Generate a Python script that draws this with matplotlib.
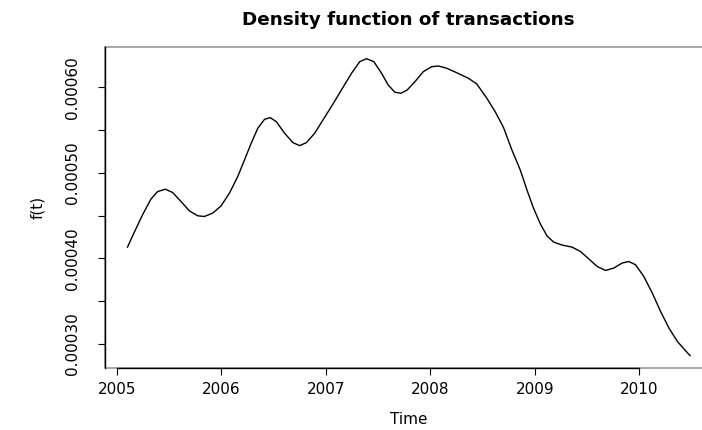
import matplotlib
matplotlib.use('Agg')
import matplotlib.pyplot as plt
from matplotlib.patches import Rectangle
import numpy as np

plt.rcParams['font.family'] = ['DejaVu Sans']

# density curve (time in years, density in 1e-5)
years = [2005.102, 2005.166, 2005.246, 2005.326, 2005.390, 2005.464, 2005.534,
         2005.614, 2005.694, 2005.774, 2005.838, 2005.917, 2005.998, 2006.078,
         2006.157, 2006.222, 2006.286, 2006.349, 2006.414, 2006.468, 2006.526,
         2006.606, 2006.685, 2006.750, 2006.814, 2006.894, 2006.973, 2007.069,
         2007.165, 2007.246, 2007.325, 2007.390, 2007.460, 2007.534, 2007.597,
         2007.661, 2007.719, 2007.779, 2007.853, 2007.933, 2008.013, 2008.077,
         2008.157, 2008.253, 2008.365, 2008.445, 2008.541, 2008.621, 2008.701,
         2008.781, 2008.861, 2008.925, 2008.988, 2009.053, 2009.117, 2009.180,
         2009.261, 2009.357, 2009.437, 2009.516, 2009.597, 2009.677, 2009.756,
         2009.837, 2009.900, 2009.965, 2010.044, 2010.125, 2010.204, 2010.284,
         2010.365, 2010.428, 2010.486]
dens_e5 = [41.32, 43.03, 45.09, 46.93, 47.81, 48.09, 47.70,
           46.65, 45.56, 44.98, 44.90, 45.29, 46.14, 47.63,
           49.56, 51.51, 53.46, 55.21, 56.26, 56.45, 55.98,
           54.63, 53.53, 53.18, 53.53, 54.63, 56.18, 58.05,
           60.00, 61.63, 62.99, 63.34, 62.99, 61.63, 60.27,
           59.42, 59.30, 59.68, 60.65, 61.82, 62.40, 62.49,
           62.22, 61.70, 61.05, 60.39, 58.72, 57.15, 55.30,
           52.68, 50.35, 48.01, 45.88, 44.04, 42.64, 41.91,
           41.56, 41.32, 40.81, 39.96, 39.06, 38.59, 38.87,
           39.46, 39.64, 39.26, 37.89, 35.95, 33.81, 31.87,
           30.30, 29.42, 28.64]
density = np.array(dens_e5) * 1e-5

x_ticks = [2005, 2006, 2007, 2008, 2009, 2010]
y_ticks = [0.00030, 0.00035, 0.00040, 0.00045, 0.00050, 0.00055, 0.00060]
y_labels = ['0.00030', '', '0.00040', '', '0.00050', '', '0.00060']

W, H = 702, 430
fig = plt.figure(figsize=(W / 100, H / 100), dpi=100)
# plot region in pixels (right side runs past the edge, like the reference)
left, right, top, bottom = 105.0, 712.5, 46.8, 367.5
ax = fig.add_axes([left / W, 1 - bottom / H, (right - left) / W, (bottom - top) / H])

ax.plot(years, density, color='black', lw=1.0, solid_joinstyle='round')

# R style 4% padding
xr = max(years) - min(years)
yr = density.max() - density.min()
ax.set_xlim(min(years) - 0.04 * xr, max(years) + 0.04 * xr)
ax.set_ylim(density.min() - 0.04 * yr, density.max() + 0.04 * yr)

for s in ax.spines.values():
    s.set_visible(False)
ax.add_patch(Rectangle((0, 0), 1, 1, transform=ax.transAxes, fill=False,
                       ec='#9a9a9a', lw=1.2, clip_on=False))
ax.spines['left'].set_visible(True)
ax.spines['bottom'].set_visible(True)
ax.spines['bottom'].set_bounds(x_ticks[0], x_ticks[-1])
ax.spines['left'].set_linewidth(1.0)
ax.spines['bottom'].set_linewidth(1.0)

ax.set_xticks(x_ticks)
ax.set_xticklabels([str(t) for t in x_ticks])
ax.set_yticks(y_ticks)
ax.set_yticklabels(y_labels, rotation=90, va='center')
ax.tick_params(axis='both', direction='out', length=5, width=0.8, labelsize=11)
ax.tick_params(axis='x', pad=5.5)
ax.tick_params(axis='y', pad=13)

ax.set_title('Density function of transactions', fontsize=13.2, fontweight='bold', pad=15.5)
ax.set_xlabel('Time', fontsize=11, labelpad=11)
ax.set_ylabel('f(t)', fontsize=11, labelpad=14)

fig.savefig('out.png', dpi=100)
